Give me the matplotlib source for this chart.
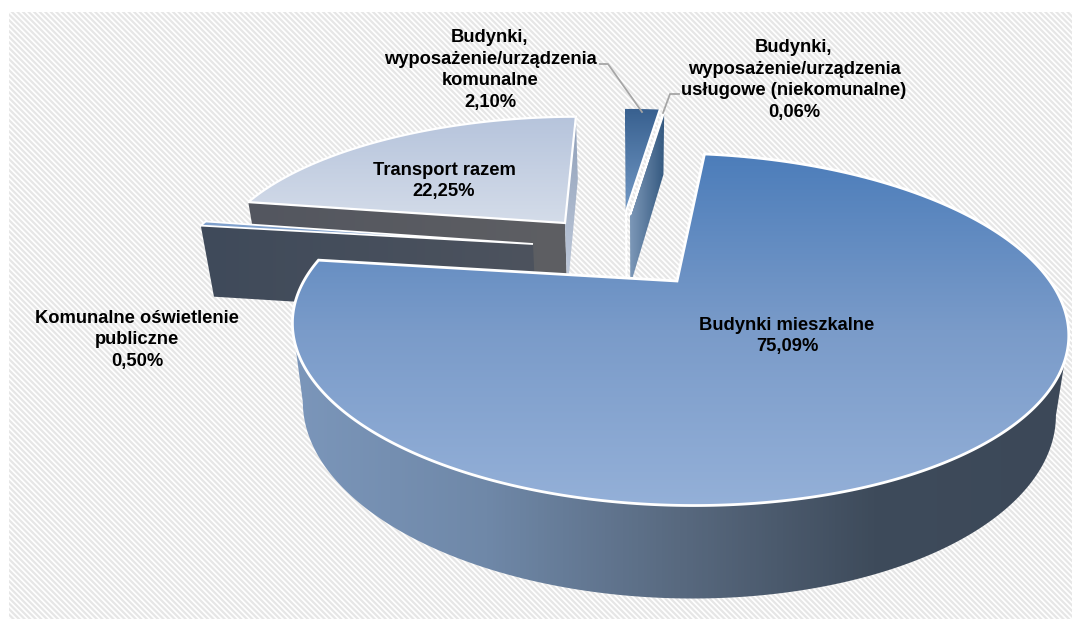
import numpy as np
import matplotlib
matplotlib.use('Agg')
import matplotlib.pyplot as plt
from matplotlib.colors import LinearSegmentedColormap
from matplotlib.patches import Polygon, Rectangle

plt.rcParams['font.family'] = ['Liberation Sans', 'DejaVu Sans']
plt.rcParams['hatch.linewidth'] = 1.6

# slices clockwise from 12 o'clock
names = ['Budynki mieszkalne', 'Komunalne oświetlenie publiczne', 'Transport razem',
         'Budynki, wyposażenie/urządzenia komunalne',
         'Budynki, wyposażenie/urządzenia usługowe (niekomunalne)']
values = [75.09, 0.50, 22.25, 2.10, 0.06]

# where each slice's tip ended up after the explode, in pixels
tips = [(677, 281), (533, 244), (565, 223), (626, 211), (630, 215)]

def homography(src, dst):
    # plain 4 point fit, disk coords -> pixels
    a, b = [], []
    for (u, v), (x, y) in zip(src, dst):
        a.append([u, v, 1, 0, 0, 0, -u*x, -v*x])
        a.append([0, 0, 0, u, v, 1, -u*y, -v*y])
        b += [x, y]
    return np.append(np.linalg.solve(np.array(a, float), np.array(b, float)), 1).reshape(3, 3)

H = homography([(0, 1), (1, 0), (0, -1), (-1, 0)],
               [(703, 152), (1058, 299), (627, 497), (318, 258)])
Hinv = np.linalg.inv(H)

def project(m, pts):
    pts = np.column_stack([pts, np.ones(len(pts))])
    q = pts @ m.T
    return q[:, :2] / q[:, 2:]

def drop(pts):
    # floor of the pie: same points pushed down, walls lean in a little
    pts = np.asarray(pts, float)
    return np.column_stack([pts[:, 0] + (640 - pts[:, 0])*0.03,
                            pts[:, 1] + 0.0783*(pts[:, 1] + 682)])

def slice_arc(i, a0, a1, n=200):
    off = project(Hinv, np.array([tips[i]], float))[0]
    th = np.radians(np.linspace(a0, a1, n))
    return project(H, off + np.column_stack([np.sin(th), np.cos(th)]))

def grad(ax, pts, colors, horizontal=False, zorder=2):
    pts = np.asarray(pts)
    cm = LinearSegmentedColormap.from_list('g', colors)
    g = np.linspace(0, 1, 256)
    g = g.reshape(1, -1) if horizontal else g.reshape(-1, 1)
    x0, x1 = pts[:, 0].min(), pts[:, 0].max()
    y0, y1 = pts[:, 1].min(), pts[:, 1].max()
    im = ax.imshow(g, cmap=cm, extent=(x0, x1, y1, y0), aspect='auto', zorder=zorder, interpolation='bilinear')
    patch = Polygon(pts, closed=True, transform=ax.transData, fc='none', ec='none')
    ax.add_patch(patch)
    im.set_clip_path(patch)

fig = plt.figure(figsize=(10.72, 6.19), dpi=100)
ax = fig.add_axes([0, 0, 1, 1])
ax.axis('off')

ax.add_patch(Rectangle((9, 12), 1063, 607, fc='white', ec='#e6e6e6', hatch='\\\\\\\\\\\\', lw=0, zorder=0))

angles = np.concatenate([[0], np.cumsum(values)]) * 3.6

# ---- transport
i = 2
arc = slice_arc(i, angles[i], angles[i+1])
apex = np.array([tips[i]], float)
top = np.vstack([apex, arc])
grad(ax, np.vstack([apex, arc[:1], drop(arc[:1]), drop(apex)]), ['#53565f', '#5e5f63'], True, 2)
grad(ax, np.vstack([apex, arc[-1:], drop(arc[-1:]), drop(apex)]), ['#8f9fb8', '#c3cddd'], False, 2)
grad(ax, top, ['#b6c4dc', '#d4dce9'], False, 3)
ax.add_patch(Polygon(top, fc='none', ec='white', lw=1.6, zorder=4))

# ---- the two small building slices
i = 3
arc = slice_arc(i, angles[i], angles[i+1])
apex = np.array([tips[i]], float)
top = np.vstack([apex, arc])
low = np.vstack([apex, arc[:1], drop(arc[:1]), drop(apex)])
grad(ax, low, ['#6482a6', '#6a88ac'], False, 5)
grad(ax, top, ['#38608f', '#7299c6'], False, 6)
ax.plot(*np.vstack([arc[-1:], apex, drop(apex)]).T, color='white', lw=1.5, zorder=7)

i = 4
arc = slice_arc(i, angles[i], angles[i+1], 5)
apex = np.array([tips[i]], float)
top = np.vstack([apex, arc])
grad(ax, np.vstack([apex, arc[-1:], drop(arc[-1:]), drop(apex)]), ['#7d98b8', '#33587f'], True, 8)
ax.add_patch(Polygon(top, fc='white', ec='white', lw=1.4, zorder=9))

# ---- street lighting
i = 1
arc = slice_arc(i, angles[i], angles[i+1], 20)
apex = np.array([tips[i]], float)
top = np.vstack([apex, arc])
grad(ax, np.vstack([apex, arc[:1], drop(arc[:1]), drop(apex)]), ['#3f4a5a', '#4d535e'], True, 10)
ax.add_patch(Polygon(top, fc='#7fa0cc', ec='white', lw=1.3, zorder=11))

# ---- homes, the big one
i = 0
arc = slice_arc(i, angles[i], angles[i+1], 600)
apex = np.array([tips[i]], float)
top = np.vstack([apex, arc])
r = np.argmax(arc[:, 0])
l = np.argmin(arc[:, 0])
outer = np.vstack([arc[r:l+1], drop(arc[r:l+1])[::-1]])
grad(ax, outer, ['#7b96ba', '#6f88a8', '#58697f', '#3e4b5b', '#3c4858'], True, 12)
grad(ax, top, ['#4c7dba', '#7a9bc9', '#94b0d8'], False, 13)
ax.add_patch(Polygon(top, fc='none', ec='white', lw=2, zorder=14))

# leader lines
ax.plot([600, 608, 642], [64, 64, 112], color='#a6a6a6', lw=1.3, zorder=15)
ax.plot([663, 670, 679], [113, 94, 94], color='#a6a6a6', lw=1.3, zorder=15)

txt = dict(ha='center', va='center', fontsize=13.2, fontweight='bold', color='black', zorder=20, linespacing=1.34)
ax.text(787, 336, names[0] + '\n75,09%', **txt)
ax.text(137, 340, 'Komunalne oświetlenie\npubliczne\n0,50%', **txt)
ax.text(444, 181, names[2] + '\n22,25%', **txt)
ax.text(490, 70, 'Budynki,\nwyposażenie/urządzenia\nkomunalne\n2,10%', **txt)
ax.text(794, 80, 'Budynki,\nwyposażenie/urządzenia\nusługowe (niekomunalne)\n0,06%', **txt)

ax.set_xlim(0, 1072)
ax.set_ylim(619, 0)
fig.savefig('out.png', dpi=100)
